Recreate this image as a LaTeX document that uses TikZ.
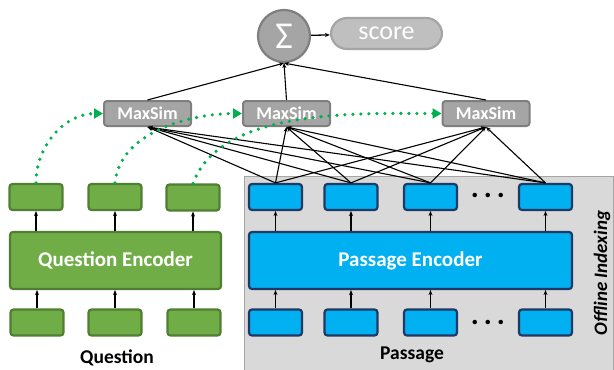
\documentclass[tikz,border=0pt]{standalone}
\usepackage{fontspec}
\setmainfont{Carlito}
\usetikzlibrary{arrows.meta}
\definecolor{gfill}{HTML}{70AD47}
\definecolor{gdraw}{HTML}{507E32}
\definecolor{bfill}{HTML}{00B0F0}
\definecolor{bdraw}{HTML}{1F3864}
\definecolor{dotgreen}{HTML}{00B050}
\definecolor{gymid}{HTML}{A5A5A5}
\definecolor{gydark}{HTML}{7F7F7F}
\definecolor{gylight}{HTML}{BFBFBF}
\definecolor{bgpass}{HTML}{D9D9D9}
\begin{document}
\begin{tikzpicture}[x=1pt,y=1pt,
  gtok/.style={draw=gdraw, fill=gfill, line width=2.2pt, rounded corners=3pt, minimum width=53pt, minimum height=26pt, inner sep=0pt},
  btok/.style={draw=bdraw, fill=bfill, line width=2.2pt, rounded corners=3pt, minimum width=53pt, minimum height=26pt, inner sep=0pt},
  genc/.style={gtok, minimum width=211pt, minimum height=57pt, text=white, font=\fontsize{21}{21}\selectfont\bfseries},
  benc/.style={btok, minimum width=323pt, minimum height=57pt, text=white, font=\fontsize{21}{21}\selectfont\bfseries},
  maxsim/.style={draw=gydark, fill=gymid, line width=2pt, rounded corners=3pt, minimum width=87pt, minimum height=25pt, inner sep=0pt, text=white, font=\fontsize{18}{18}\selectfont\bfseries},
  arr/.style={-{Stealth[length=5pt,width=4pt]}, line width=1.3pt},
  thin/.style={-{Stealth[length=5pt,width=4pt]}, line width=1.1pt},
  dotarr/.style={dotgreen, line width=3.6pt, dash pattern=on 0pt off 8pt, line cap=round, -{Triangle[length=9pt,width=10pt]}},
  lbl/.style={font=\fontsize{19.5}{19.5}\selectfont\bfseries, inner sep=0pt},
  dots/.style={font=\fontsize{30}{30}\selectfont\bfseries, inner sep=0pt}
]
\useasboundingbox (0,0) rectangle (614,-370);
% passage background
\node[draw=gymid, fill=bgpass, line width=1pt, minimum width=369pt, minimum height=194pt, inner sep=0pt, anchor=north west] (bg) at (243.5,-175.5) {};

% sigma and score
\node[circle, draw=gydark, fill=gymid, line width=2.2pt, minimum size=52pt, inner sep=0pt, text=white, font=\fontsize{38}{38}\selectfont] (sum) at (284,-36) {Σ};
\node[draw=gymid, fill=gylight, line width=2.2pt, rounded corners=16pt, minimum width=111pt, minimum height=31pt, inner sep=0pt, text=white, font=\fontsize{26}{26}\selectfont] (score) at (386.5,-33.5) {score};
\draw[arr] (sum) -- (score);

% MaxSim
\node[maxsim] (m1) at (147.5,-113.5) {MaxSim};
\node[maxsim] (m2) at (286.5,-113.5) {MaxSim};
\node[maxsim] (m3) at (486,-113.5) {MaxSim};
\foreach \m in {m1,m2,m3} \draw[thin] (\m.north) -- (sum.south);

% question side
\node[gtok] (qt1) at (36,-197) {};
\node[gtok] (qt2) at (115,-197) {};
\node[gtok] (qt3) at (193,-197.5) {};
\node[genc] (qenc) at (115.5,-260.5) {Question Encoder};
\node[gtok] (qb1) at (37,-322.5) {};
\node[gtok] (qb2) at (115,-322.5) {};
\node[gtok] (qb3) at (194,-322.5) {};
\node[lbl] (qlbl) at (117,-358) {Question};
\foreach \i in {1,2,3} {
  \draw[arr] (qb\i.north) -- (qb\i.north |- qenc.south);
  \draw[arr] (qt\i.south |- qenc.north) -- (qt\i.south);
}

% passage side
\node[btok] (pt1) at (275.5,-197) {};
\node[btok] (pt2) at (351,-197) {};
\node[btok] (pt3) at (430.5,-197) {};
\node[btok] (pt4) at (545.5,-197) {};
\node[dots] (tdots) at (488,-195) {.\hspace{5pt}.\hspace{5pt}.};
\node[benc] (penc) at (410.5,-260.5) {Passage Encoder};
\node[btok] (pb1) at (275.5,-322.5) {};
\node[btok] (pb2) at (351,-322.5) {};
\node[btok] (pb3) at (430.5,-322.5) {};
\node[btok] (pb4) at (545.5,-322.5) {};
\node[dots] (bdots) at (488,-322) {.\hspace{5pt}.\hspace{5pt}.};
\node[lbl] (plbl) at (412,-355) {Passage};
\node[font=\fontsize{19}{19}\selectfont\bfseries\itshape, rotate=90, inner sep=0pt] (off) at (602,-273) {Offline Indexing};
\foreach \i in {1,2,3,4} {
  \draw[arr] (pb\i.north) -- (pb\i.north |- penc.south);
  \draw[arr] (pt\i.south |- penc.north) -- (pt\i.south);
}

% MaxSim to passage tokens
\foreach \m in {m1,m2,m3}
  \foreach \i in {1,2,3,4}
    \draw[thin] (pt\i.north) -- (\m.south);

% green dotted
\draw[dotarr] (qt1.north) to[out=90, in=180] (m1.west);
\draw[dotarr] (qt2.north) to[out=85, in=180, looseness=0.9] (m2.west);
\draw[dotarr] (qt3.north) to[out=70, in=180, looseness=0.8] (m3.west);
\end{tikzpicture}
\end{document}
